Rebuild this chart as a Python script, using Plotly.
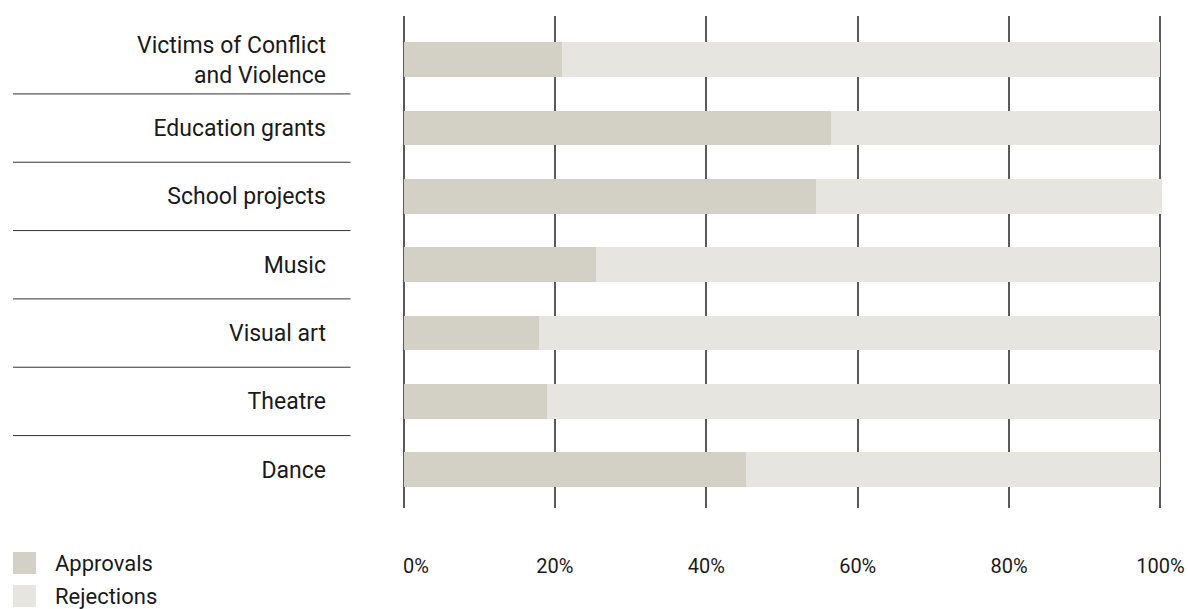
import plotly.graph_objects as go

categories = ["Victims of Conflict<br>and Violence", "Education grants", "School projects",
              "Music", "Visual art", "Theatre", "Dance"]
approvals = [20.9, 56.5, 54.5, 25.4, 17.9, 18.9, 45.2]
rejections = [79.1, 43.5, 45.7, 74.6, 82.1, 81.1, 54.8]
tick_vals = [0, 20, 40, 60, 80, 100]
tick_text = ["\u00a0\u00a0\u00a0\u00a0\u00a00%", "20%", "40%", "60%", "80%", "100%"]
series_names = ["Approvals", "Rejections"]
colors = ["#d3d1c6", "#e6e5e0"]

FONT = "Roboto, Arial, sans-serif"
TEXT = "#1a1a1a"

fig = go.Figure()
for name, vals, col in zip(series_names, [approvals, rejections], colors):
    fig.add_trace(go.Bar(
        y=categories, x=vals, name=name, orientation="h",
        marker=dict(color=col, line=dict(width=0)),
        width=0.51, showlegend=False, hoverinfo="x+y+name",
    ))

y_top, y_bot = -0.64, len(categories) - 1 + 0.56
span = y_bot - y_top

def ypaper(v):
    return (y_bot - v) / span

x_lo, x_hi = -0.2, 100.2
px_per_unit = 7.56
plot_w = (x_hi - x_lo) * px_per_unit
left = 404 - (0 - x_lo) * px_per_unit
right = 1188 - left - plot_w

def xpaper(px):
    return (px - left) / plot_w

shapes = []
for i in range(len(categories) - 1):
    yp = ypaper(i + 0.5)
    shapes.append(dict(type="line", xref="paper", yref="paper",
                       x0=xpaper(14), x1=xpaper(351), y0=yp, y1=yp,
                       line=dict(color="#333333", width=1)))

annotations = []
plot_h = 492
for k, (name, col) in enumerate(zip(series_names, colors)):
    top_px = 552 + k * 33
    y0 = -(top_px - 508) / plot_h
    y1 = -(top_px + 22 - 508) / plot_h
    shapes.append(dict(type="rect", xref="paper", yref="paper",
                       x0=xpaper(14), x1=xpaper(37), y0=y1, y1=y0,
                       fillcolor=col, line=dict(width=0)))
    annotations.append(dict(xref="paper", yref="paper", x=xpaper(55), y=(y0 + y1) / 2,
                            text=name, showarrow=False, xanchor="left", yanchor="middle",
                            borderpad=0,
                            font=dict(family=FONT, size=22, color=TEXT)))

fig.update_layout(
    barmode="stack",
    width=1188, height=609, autosize=False,
    margin=dict(l=left, r=right, t=16, b=101, pad=0, autoexpand=False),
    paper_bgcolor="white", plot_bgcolor="white",
    shapes=shapes, annotations=annotations,
    xaxis=dict(range=[x_lo, x_hi], tickvals=tick_vals, ticktext=tick_text,
               showgrid=True, gridcolor="#5a5a5a", gridwidth=1.5,
               zeroline=False, showline=False, ticks="", automargin=False,
               ticklabelstandoff=44,
               tickfont=dict(family=FONT, size=20, color=TEXT)),
    yaxis=dict(range=[y_bot, y_top], showgrid=False, zeroline=False, showline=False,
               ticks="", ticklabelstandoff=75, automargin=False,
               tickfont=dict(family=FONT, size=23, color=TEXT)),
    showlegend=False,
)

fig.write_html("out.html", config={"displayModeBar": False, "responsive": False},
               post_script="document.body.style.margin='0';")
